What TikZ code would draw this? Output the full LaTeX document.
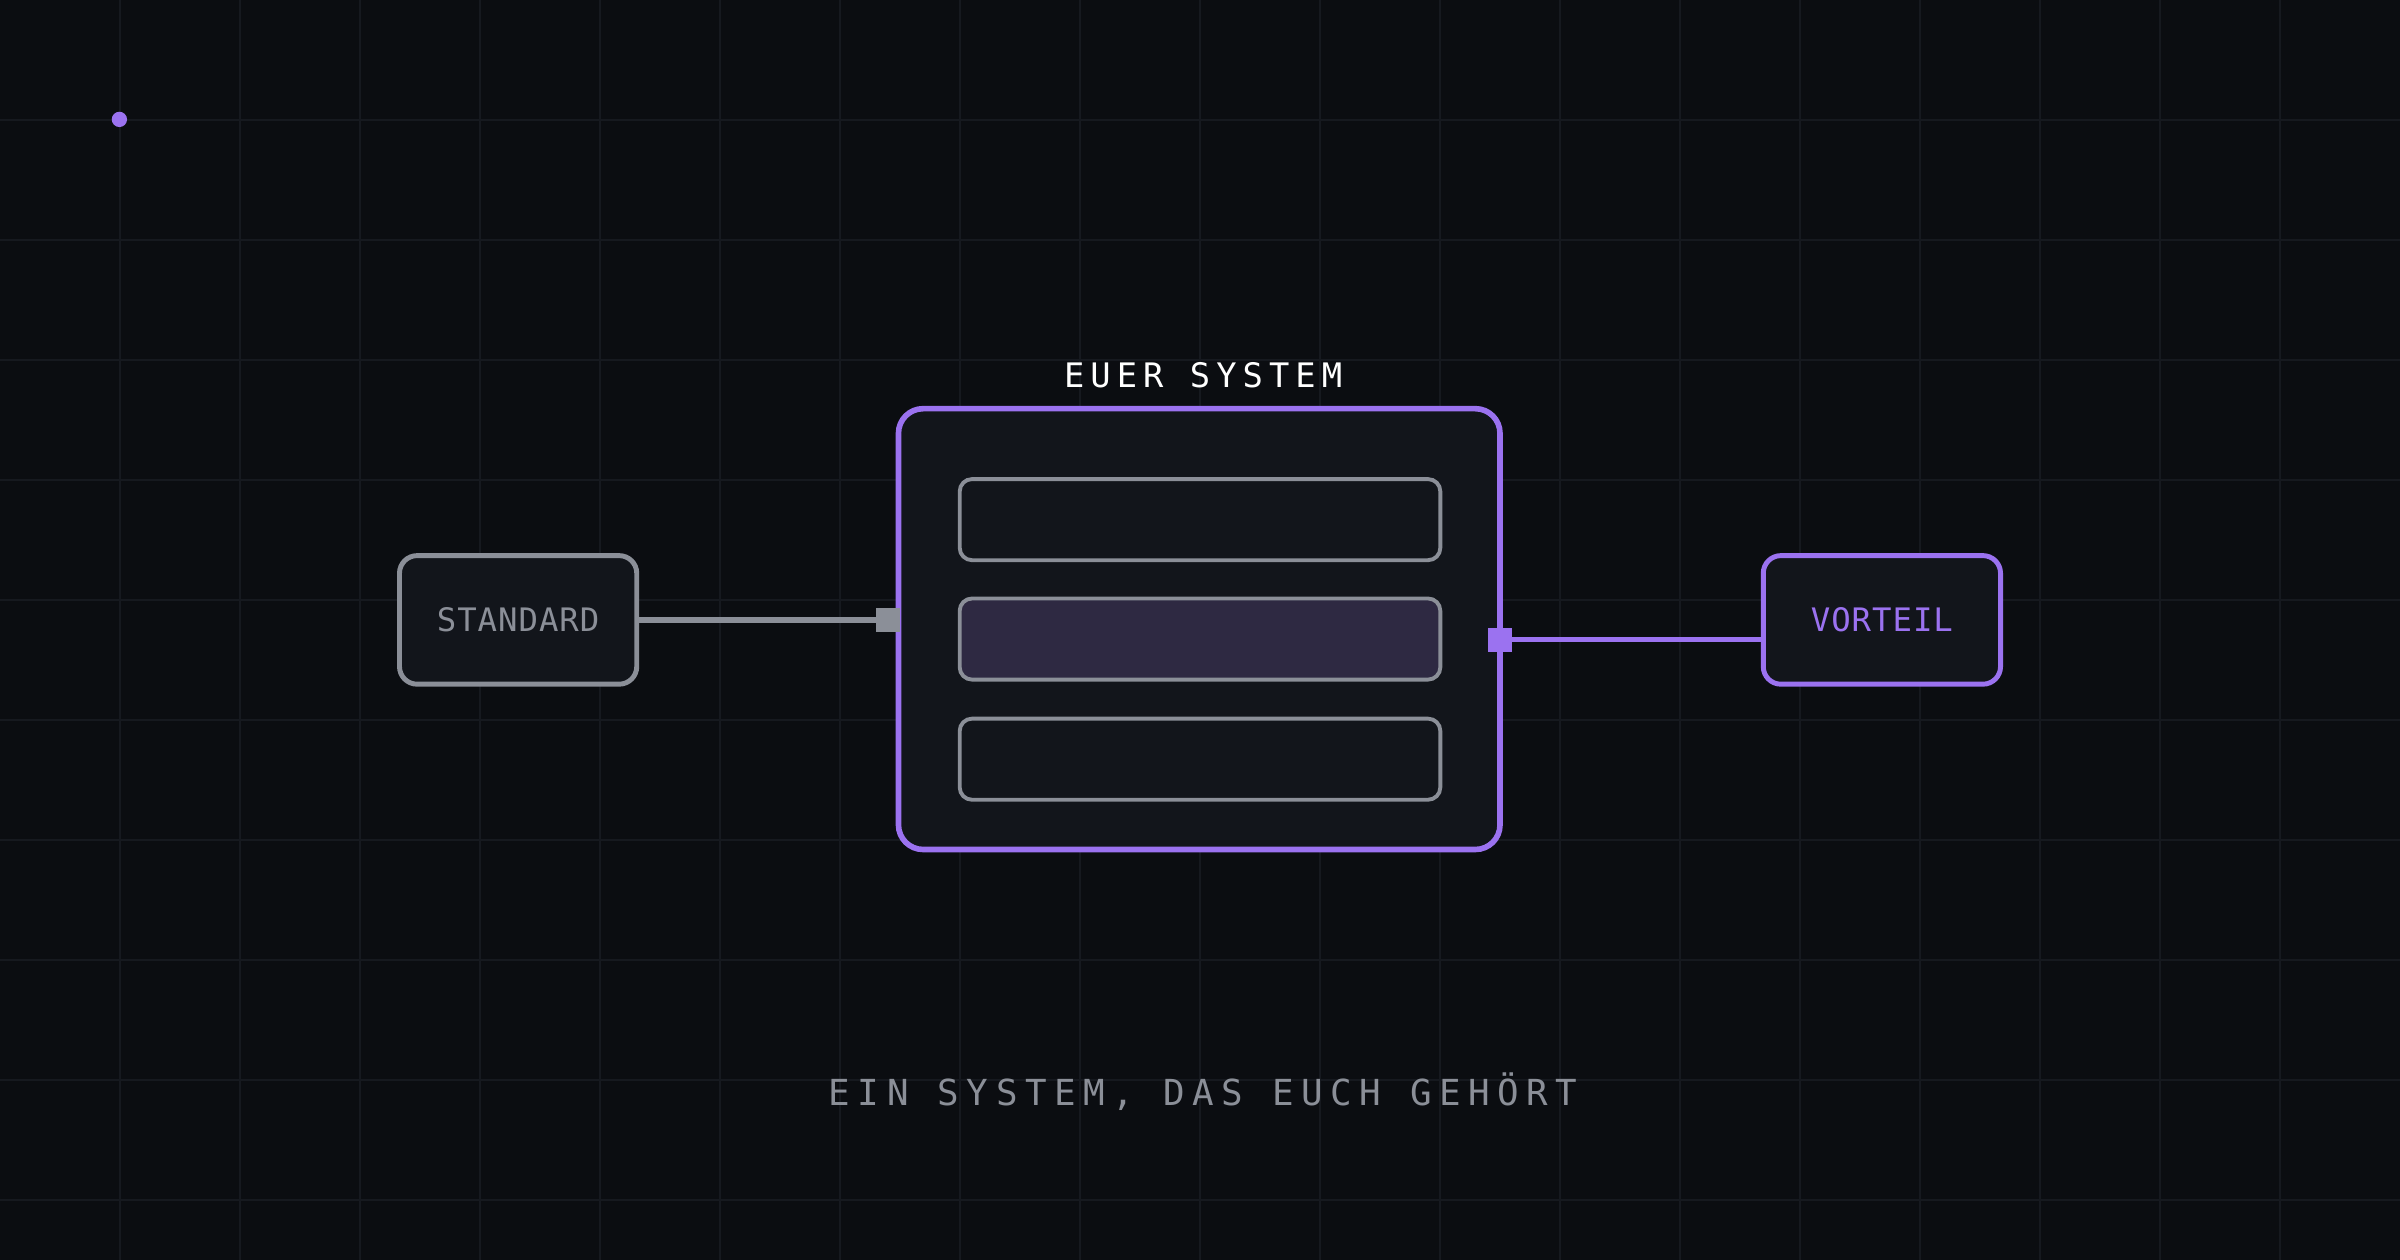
\documentclass[tikz,border=0pt]{standalone}
\usepackage{fontspec}
\setmonofont{DejaVu Sans Mono}
\begin{document}
\definecolor{bg}{HTML}{0B0D11}
\definecolor{gridc}{HTML}{16191F}
\definecolor{purp}{HTML}{9B72F0}
\definecolor{grayc}{HTML}{8B8F98}
\definecolor{boxf}{HTML}{12151B}
\definecolor{hil}{HTML}{2E2942}
\begin{tikzpicture}[x=0.015306cm,y=-0.015306cm,
  box/.style={draw=grayc,line width=1.4pt,fill=boxf,rounded corners=5pt},
  bar/.style={draw=grayc,line width=1.1pt,fill=boxf,rounded corners=3.5pt},
  lbl/.style={font=\ttfamily\fontsize{9.2}{12}\selectfont\addfontfeature{LetterSpace=3}}]
\fill[bg] (0,0) rectangle (1568,823);
\useasboundingbox (0,0) rectangle (1568,823);
\foreach \i in {1,...,19} \draw[gridc,line width=0.5pt] (\i*78.4,0) -- (\i*78.4,823);
\foreach \j in {1,...,10} \draw[gridc,line width=0.5pt] (0,\j*78.4) -- (1568,\j*78.4);
\fill[purp] (78,78) circle (5);
\node[draw=purp,line width=1.6pt,fill=boxf,rounded corners=7pt,minimum width=393*0.015306cm,minimum height=288*0.015306cm] (sys) at (783.5,411) {};
\node[text=white,font=\ttfamily\fontsize{9.6}{12}\selectfont\addfontfeature{LetterSpace=18}] (t) at (786,245) {EUER SYSTEM};
\node[bar,minimum width=314*0.015306cm,minimum height=53*0.015306cm] (b1) at (784,339.5) {};
\node[bar,fill=hil,minimum width=314*0.015306cm,minimum height=53*0.015306cm] (b2) at (784,417.5) {};
\node[bar,minimum width=314*0.015306cm,minimum height=53*0.015306cm] (b3) at (784,496) {};
\node[box,lbl,text=grayc,minimum width=155*0.015306cm,minimum height=84*0.015306cm] (std) at (338.5,405) {STANDARD};
\node[box,draw=purp,lbl,text=purp,minimum width=155*0.015306cm,minimum height=84*0.015306cm] (vor) at (1229.5,405) {VORTEIL};
\coordinate (sq1) at (580,405);
\coordinate (sq2) at (980,418);
\draw[grayc,line width=1.5pt] (std.east) -- (sq1);
\fill[grayc] (572,397) rectangle (588,413);
\draw[purp,line width=1.5pt] (sq2) -- (vor.west |- sq2);
\fill[purp] (972,410) rectangle (988,426);
\node[text=grayc,font=\ttfamily\fontsize{10.2}{14}\selectfont\addfontfeature{LetterSpace=21}] (sub) at (786,713) {EIN SYSTEM, DAS EUCH GEHÖRT};
\end{tikzpicture}
\end{document}
